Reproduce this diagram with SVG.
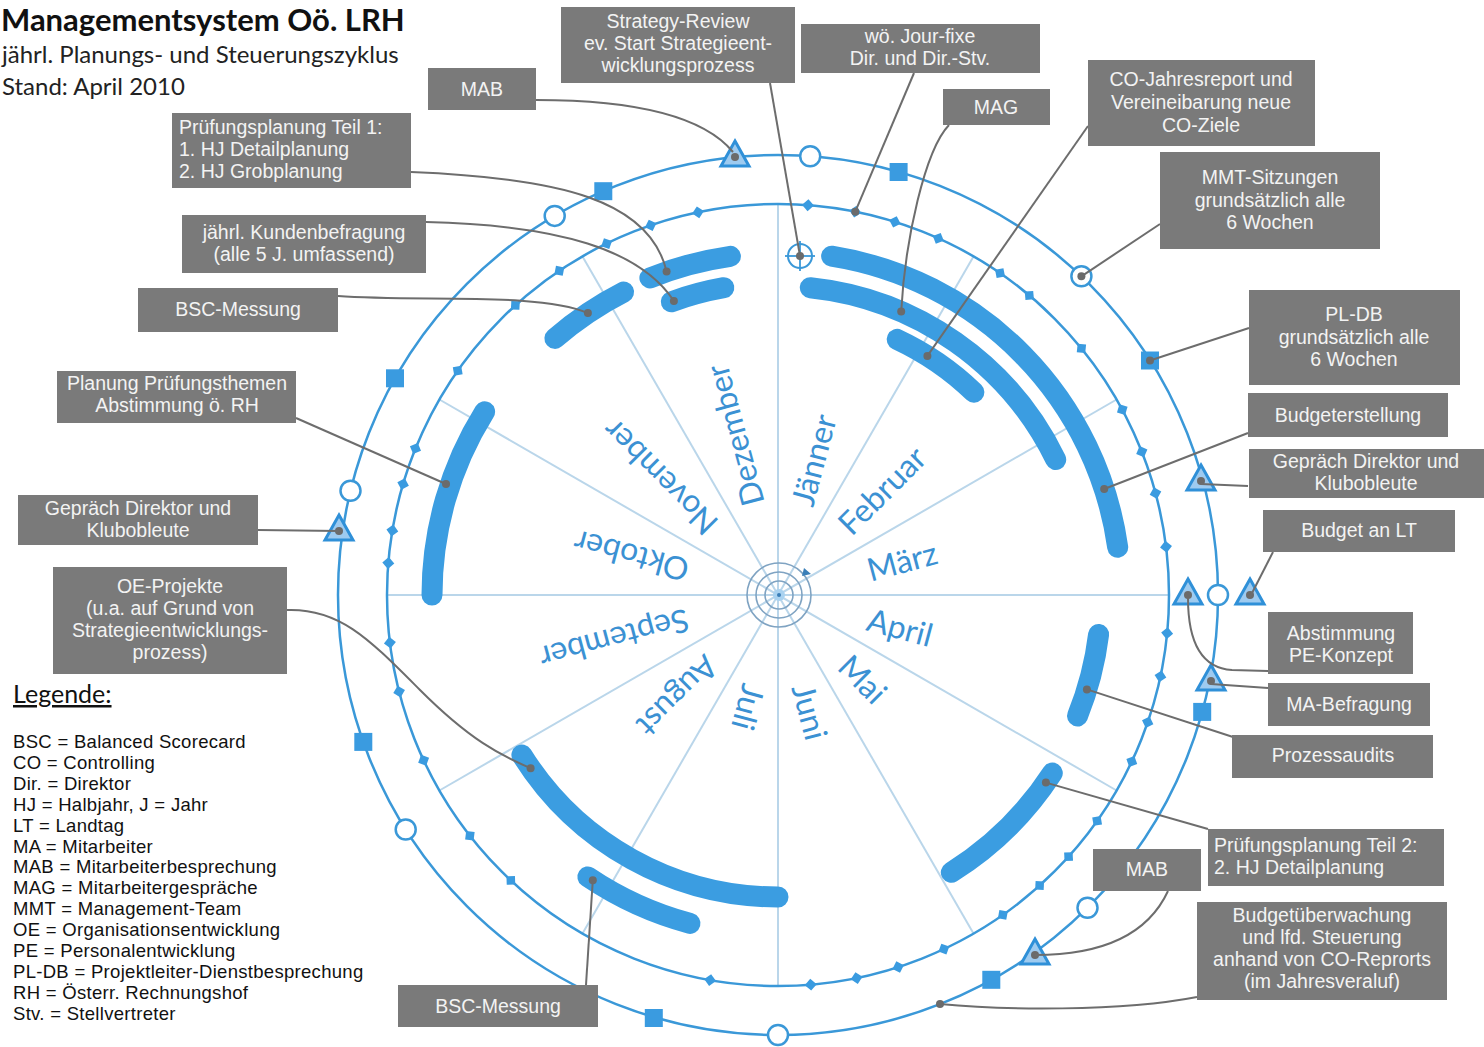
<svg xmlns="http://www.w3.org/2000/svg" xmlns:xlink="http://www.w3.org/1999/xlink" width="1484" height="1047" viewBox="0 0 1484 1047">
<style>
text{font-family:Lato,"Liberation Sans",sans-serif}
.box{fill:#7a7a7a}
.bt{fill:#f3f3f3;font-family:"Liberation Sans",Arial,sans-serif;font-size:19.5px;text-anchor:middle}
.btl{fill:#f3f3f3;font-family:"Liberation Sans",Arial,sans-serif;font-size:19.5px}
.con{fill:none;stroke:#6d6d6d;stroke-width:2}
.bar{fill:none;stroke:#3b9de1;stroke-width:21;stroke-linecap:round}
.ring{fill:none;stroke:#3a98d8;stroke-width:2.5}
.ray{stroke:#bad6ea;stroke-width:2}
.mon{fill:#3b91d3;font-size:32px}
.sq{fill:#3a9be0}
.oc{fill:#fff;stroke:#3a98d8;stroke-width:2.5}
.tri{fill:#9ecbf0;stroke:#2f90d8;stroke-width:3;stroke-linejoin:miter}
.gd{fill:#6b6b6b}
.dm{fill:#3a9be0}
.leg{font-family:"Liberation Sans",Arial,sans-serif;font-size:18.5px;letter-spacing:0.3px;fill:#111}
.tgt{fill:none;stroke:#7fa3c2;stroke-width:1.6}
</style>
<defs>
<path id="dm" d="M0,-6 L6,0 0,6 -6,0Z" class="dm"/>
<rect id="sq" x="-9" y="-9" width="18" height="18" class="sq"/>
<circle id="oc" r="10" class="oc"/>
<g id="tri"><path d="M0,-16 L14,9 -14,9Z" class="tri"/><circle r="4" class="gd"/></g>
</defs>
<rect width="1484" height="1047" fill="#fff"/>

<g id="title">
<text x="1" y="31" font-size="31" font-weight="bold" fill="#111">Managementsystem Oö. LRH</text>
<text x="2" y="63" font-size="24" fill="#222">jährl. Planungs- und Steuerungszyklus</text>
<text x="2" y="95" font-size="24" fill="#222">Stand: April 2010</text>
</g>

<g id="wheel">
<g id="rays">
<line class="ray" x1="778" y1="204" x2="778" y2="986"/>
<line class="ray" x1="387" y1="595" x2="1169" y2="595"/>
<line class="ray" x1="582.5" y1="256.4" x2="973.5" y2="933.6"/>
<line class="ray" x1="439.4" y1="399.5" x2="1116.6" y2="790.5"/>
<line class="ray" x1="439.4" y1="790.5" x2="1116.6" y2="399.5"/>
<line class="ray" x1="582.5" y1="933.6" x2="973.5" y2="256.4"/>
</g>
<circle class="ring" cx="778" cy="595" r="440"/>
<circle class="ring" cx="778" cy="595" r="391"/>
<g id="target">
<circle cx="779" cy="595" r="32" fill="#fff" class="tgt"/>
<circle cx="779" cy="595" r="23" class="tgt"/>
<circle cx="779" cy="595" r="14" class="tgt"/>
<circle cx="779" cy="595" r="6" fill="#a9d2f0"/>
<circle cx="779" cy="595" r="2" fill="#3a7fb8"/>
<path d="M804,568 L811,574 802,576Z" fill="#3a7fb8"/>
</g>
<g id="months">
<text class="mon" transform="translate(802.1,505.2) rotate(-75)" dy="0.35em">Jänner</text>
<text class="mon" transform="translate(843.8,529.2) rotate(-45)" dy="0.35em">Februar</text>
<text class="mon" transform="translate(867.8,570.9) rotate(-15)" dy="0.35em">März</text>
<text class="mon" transform="translate(867.8,619.1) rotate(15)" dy="0.35em">April</text>
<text class="mon" transform="translate(843.8,660.8) rotate(45)" dy="0.35em">Mai</text>
<text class="mon" transform="translate(802.1,684.8) rotate(75)" dy="0.35em">Juni</text>
<text class="mon" transform="translate(753.9,684.8) rotate(105)" dy="0.35em">Juli</text>
<text class="mon" transform="translate(712.2,660.8) rotate(135)" dy="0.35em">August</text>
<text class="mon" transform="translate(688.2,619.1) rotate(165)" dy="0.35em">September</text>
<text class="mon" transform="translate(688.2,570.9) rotate(195)" dy="0.35em">Oktober</text>
<text class="mon" transform="translate(712.2,529.2) rotate(225)" dy="0.35em">November</text>
<text class="mon" transform="translate(753.9,505.2) rotate(255)" dy="0.35em">Dezember</text>
</g>
<g id="weekly">
<use href="#dm" x="778" y="204" transform="rotate(4.4 778 595)"/>
<use href="#dm" x="778" y="204" transform="rotate(11.4 778 595)"/>
<use href="#dm" x="778" y="204" transform="rotate(17.4 778 595)"/>
<use href="#dm" x="778" y="204" transform="rotate(24.2 778 595)"/>
<use href="#dm" x="778" y="204" transform="rotate(34.6 778 595)"/>
<use href="#dm" x="778" y="204" transform="rotate(40 778 595)"/>
<use href="#dm" x="778" y="204" transform="rotate(50.9 778 595)"/>
<use href="#dm" x="778" y="204" transform="rotate(61.7 778 595)"/>
<use href="#dm" x="778" y="204" transform="rotate(68.5 778 595)"/>
<use href="#dm" x="778" y="204" transform="rotate(74.9 778 595)"/>
<use href="#dm" x="778" y="204" transform="rotate(82.9 778 595)"/>
<use href="#dm" x="778" y="204" transform="rotate(95.6 778 595)"/>
<use href="#dm" x="778" y="204" transform="rotate(102 778 595)"/>
<use href="#dm" x="778" y="204" transform="rotate(109 778 595)"/>
<use href="#dm" x="778" y="204" transform="rotate(115.2 778 595)"/>
<use href="#dm" x="778" y="204" transform="rotate(125.3 778 595)"/>
<use href="#dm" x="778" y="204" transform="rotate(132 778 595)"/>
<use href="#dm" x="778" y="204" transform="rotate(138 778 595)"/>
<use href="#dm" x="778" y="204" transform="rotate(144.9 778 595)"/>
<use href="#dm" x="778" y="204" transform="rotate(154.9 778 595)"/>
<use href="#dm" x="778" y="204" transform="rotate(162.1 778 595)"/>
<use href="#dm" x="778" y="204" transform="rotate(168.4 778 595)"/>
<use href="#dm" x="778" y="204" transform="rotate(175.2 778 595)"/>
<use href="#dm" x="778" y="204" transform="rotate(190 778 595)"/>
<use href="#dm" x="778" y="204" transform="rotate(223.1 778 595)"/>
<use href="#dm" x="778" y="204" transform="rotate(232 778 595)"/>
<use href="#dm" x="778" y="204" transform="rotate(245 778 595)"/>
<use href="#dm" x="778" y="204" transform="rotate(255.7 778 595)"/>
<use href="#dm" x="778" y="204" transform="rotate(263 778 595)"/>
<use href="#dm" x="778" y="204" transform="rotate(274.7 778 595)"/>
<use href="#dm" x="778" y="204" transform="rotate(279.5 778 595)"/>
<use href="#dm" x="778" y="204" transform="rotate(286.5 778 595)"/>
<use href="#dm" x="778" y="204" transform="rotate(292 778 595)"/>
<use href="#dm" x="778" y="204" transform="rotate(305 778 595)"/>
<use href="#dm" x="778" y="204" transform="rotate(317.8 778 595)"/>
<use href="#dm" x="778" y="204" transform="rotate(326 778 595)"/>
<use href="#dm" x="778" y="204" transform="rotate(334 778 595)"/>
<use href="#dm" x="778" y="204" transform="rotate(341 778 595)"/>
<use href="#dm" x="778" y="204" transform="rotate(348.2 778 595)"/>
</g>
<g id="bars">
<path class="bar" d="M831.6,256.2 A343,343 0 0 1 1117.7,547.3"/>
<path class="bar" d="M810.3,287.7 A309,309 0 0 1 1055.7,459.5"/>
<path class="bar" d="M897.2,339.4 A282,282 0 0 1 973.9,392.2"/>
<path class="bar" d="M1098.6,634.4 A323,323 0 0 1 1077.5,716"/>
<path class="bar" d="M1052.3,773.1 A327,327 0 0 1 951.3,872.3"/>
<path class="bar" d="M778,897 A302,302 0 0 1 521.9,755"/>
<path class="bar" d="M690,923.4 A340,340 0 0 1 587.9,876.9"/>
<path class="bar" d="M554.9,338.4 A340,340 0 0 1 623.6,292.1"/>
<path class="bar" d="M649.9,277.9 A342,342 0 0 1 730.4,256.3"/>
<path class="bar" d="M671.3,301.8 A312,312 0 0 1 723.8,287.7"/>
<path class="bar" d="M432,595 A346,346 0 0 1 484.6,411.7"/>
</g>
<g id="events">
<use href="#oc" x="810.2" y="156.2"/>
<use href="#sq" x="898.6" y="172"/>
<use href="#oc" x="1081.4" y="276.3"/>
<use href="#sq" x="1150" y="360.5"/>
<use href="#oc" x="1218" y="595"/>
<use href="#sq" x="1202.2" y="711.9"/>
<use href="#oc" x="1087.5" y="907.8"/>
<use href="#sq" x="991.3" y="979.8"/>
<use href="#oc" x="778" y="1035"/>
<use href="#sq" x="653.8" y="1018"/>
<use href="#oc" x="405.7" y="829.5"/>
<use href="#sq" x="363.3" y="741.9"/>
<use href="#oc" x="350.5" y="490.8"/>
<use href="#sq" x="395" y="378.3"/>
<use href="#oc" x="554.7" y="215.9"/>
<use href="#sq" x="603.3" y="191.2"/>
<use href="#tri" x="735" y="157"/>
<use href="#tri" x="1201" y="481"/>
<use href="#tri" x="1188" y="595"/>
<use href="#tri" x="1250" y="595"/>
<use href="#tri" x="1211" y="681"/>
<use href="#tri" x="1035" y="955"/>
<use href="#tri" x="339" y="531"/>
<g id="strategy-marker">
<circle cx="800" cy="256" r="12" fill="none" stroke="#3a98d8" stroke-width="2"/>
<line x1="785" y1="256" x2="815" y2="256" stroke="#3a98d8" stroke-width="1.8"/>
<line x1="800" y1="241" x2="800" y2="271" stroke="#3a98d8" stroke-width="1.8"/>
</g>
</g>
</g>

<g id="connectors">
<path class="con" d="M536,100 C620,100 700,112 733,152"/>
<path class="con" d="M770,83 L800,256"/>
<path class="con" d="M914,73 L855.3,211.7"/>
<path class="con" d="M949,125 C925,150 905,240 901.2,311.6"/>
<path class="con" d="M1088,126 L927.4,355.9"/>
<path class="con" d="M1160,224 L1081.4,276.3"/>
<path class="con" d="M1249,328 L1150,360.5"/>
<path class="con" d="M1248,433 L1104.2,489"/>
<path class="con" d="M1248,486 L1201,484"/>
<path class="con" d="M1273,552 L1250,597"/>
<path class="con" d="M1268,671 L1232,670 C1200,668 1188,640 1188,598"/>
<path class="con" d="M1268,688 L1211,684"/>
<path class="con" d="M1233,737 L1086.9,689.4"/>
<path class="con" d="M1208,829 L1045.9,782.6"/>
<path class="con" d="M1168,891 C1150,930 1110,955 1035,955"/>
<path class="con" d="M1197,997 C1120,1012 1000,1010 940,1004"/>
<path class="con" d="M586,985 L592.8,880.2"/>
<path class="con" d="M411,172 C560,178 650,200 666.6,271.6"/>
<path class="con" d="M426,222 C560,225 640,250 673.9,300.9"/>
<path class="con" d="M338,296 C420,302 540,292 587.9,313.1"/>
<path class="con" d="M296,418 L446,484"/>
<path class="con" d="M258,530 L339,531"/>
<path class="con" d="M287,610 C340,608 370,640 420,690 S500,755 530.6,768.2"/>
<g id="dots" class="gd">
<circle cx="800" cy="256" r="4"/>
<circle cx="855.3" cy="211.7" r="4"/>
<circle cx="901.2" cy="311.6" r="4"/>
<circle cx="927.4" cy="355.9" r="4"/>
<circle cx="1081.4" cy="276.3" r="4"/>
<circle cx="1150" cy="360.5" r="4"/>
<circle cx="1104.2" cy="489" r="4"/>
<circle cx="1086.9" cy="689.4" r="4"/>
<circle cx="1045.9" cy="782.6" r="4"/>
<circle cx="940" cy="1004" r="4"/>
<circle cx="592.8" cy="880.2" r="4"/>
<circle cx="666.6" cy="271.6" r="4"/>
<circle cx="673.9" cy="300.9" r="4"/>
<circle cx="587.9" cy="313.1" r="4"/>
<circle cx="446" cy="484" r="4"/>
<circle cx="530.6" cy="768.2" r="4"/>
</g>
</g>

<g id="n-mab-top"><rect class="box" x="428" y="68" width="108" height="42"/><text class="bt" x="482" y="96">MAB</text></g>
<g id="n-strategy"><rect class="box" x="561" y="7" width="234" height="76"/><text class="bt" y="28"><tspan x="678">Strategy-Review</tspan><tspan x="678" dy="22">ev. Start Strategieent-</tspan><tspan x="678" dy="22">wicklungsprozess</tspan></text></g>
<g id="n-jourfixe"><rect class="box" x="801" y="24" width="239" height="49"/><text class="bt" y="43"><tspan x="920">wö. Jour-fixe</tspan><tspan x="920" dy="22">Dir. und Dir.-Stv.</tspan></text></g>
<g id="n-mag"><rect class="box" x="943" y="89" width="107" height="36"/><text class="bt" x="996" y="114">MAG</text></g>
<g id="n-co"><rect class="box" x="1088" y="60" width="227" height="86"/><text class="bt" y="86"><tspan x="1201">CO-Jahresreport und</tspan><tspan x="1201" dy="23">Vereineibarung neue</tspan><tspan x="1201" dy="23">CO-Ziele</tspan></text></g>
<g id="n-mmt"><rect class="box" x="1160" y="152" width="220" height="97"/><text class="bt" y="184"><tspan x="1270">MMT-Sitzungen</tspan><tspan x="1270" dy="23">grundsätzlich alle</tspan><tspan x="1270" dy="22">6 Wochen</tspan></text></g>
<g id="n-pldb"><rect class="box" x="1249" y="290" width="211" height="95"/><text class="bt" y="321"><tspan x="1354">PL-DB</tspan><tspan x="1354" dy="23">grundsätzlich alle</tspan><tspan x="1354" dy="22">6 Wochen</tspan></text></g>
<g id="n-budgeterstellung"><rect class="box" x="1248" y="393" width="200" height="44"/><text class="bt" x="1348" y="422">Budgeterstellung</text></g>
<g id="n-gespraech-r"><rect class="box" x="1249" y="449" width="235" height="49"/><text class="bt" y="468"><tspan x="1366">Gepräch Direktor und</tspan><tspan x="1366" dy="22">Klubobleute</tspan></text></g>
<g id="n-budget-lt"><rect class="box" x="1263" y="510" width="192" height="42"/><text class="bt" x="1359" y="537">Budget an LT</text></g>
<g id="n-pe"><rect class="box" x="1268" y="612" width="145" height="62"/><text class="bt" y="640"><tspan x="1341">Abstimmung</tspan><tspan x="1341" dy="22">PE-Konzept</tspan></text></g>
<g id="n-mabefragung"><rect class="box" x="1268" y="683" width="162" height="43"/><text class="bt" x="1349" y="711">MA-Befragung</text></g>
<g id="n-prozess"><rect class="box" x="1232" y="735" width="201" height="43"/><text class="bt" x="1333" y="762">Prozessaudits</text></g>
<g id="n-pp2"><rect class="box" x="1208" y="829" width="236" height="57"/><text class="btl" y="852"><tspan x="1214">Prüfungsplanung Teil 2:</tspan><tspan x="1214" dy="22">2. HJ Detailplanung</tspan></text></g>
<g id="n-mab-br"><rect class="box" x="1093" y="849" width="108" height="42"/><text class="bt" x="1147" y="876">MAB</text></g>
<g id="n-budgetueberw"><rect class="box" x="1197" y="902" width="250" height="98"/><text class="bt" y="922"><tspan x="1322">Budgetüberwachung</tspan><tspan x="1322" dy="22">und lfd. Steuerung</tspan><tspan x="1322" dy="22">anhand von CO-Reprorts</tspan><tspan x="1322" dy="22">(im Jahresveraluf)</tspan></text></g>
<g id="n-bsc-bottom"><rect class="box" x="398" y="985" width="200" height="42"/><text class="bt" x="498" y="1013">BSC-Messung</text></g>
<g id="n-pp1"><rect class="box" x="172" y="113" width="239" height="75"/><text class="btl" y="134"><tspan x="179">Prüfungsplanung Teil 1:</tspan><tspan x="179" dy="22">1. HJ Detailplanung</tspan><tspan x="179" dy="22">2. HJ Grobplanung</tspan></text></g>
<g id="n-kunden"><rect class="box" x="182" y="215" width="244" height="58"/><text class="bt" y="239"><tspan x="304">jährl. Kundenbefragung</tspan><tspan x="304" dy="22">(alle 5 J. umfassend)</tspan></text></g>
<g id="n-bsc-left"><rect class="box" x="138" y="288" width="200" height="44"/><text class="bt" x="238" y="316">BSC-Messung</text></g>
<g id="n-planung"><rect class="box" x="57" y="371" width="239" height="52"/><text class="bt" y="390"><tspan x="177">Planung Prüfungsthemen</tspan><tspan x="177" dy="22">Abstimmung ö. RH</tspan></text></g>
<g id="n-gespraech-l"><rect class="box" x="18" y="495" width="240" height="50"/><text class="bt" y="515"><tspan x="138">Gepräch Direktor und</tspan><tspan x="138" dy="22">Klubobleute</tspan></text></g>
<g id="n-oe"><rect class="box" x="53" y="567" width="234" height="107"/><text class="bt" y="593"><tspan x="170">OE-Projekte</tspan><tspan x="170" dy="22">(u.a. auf Grund von</tspan><tspan x="170" dy="22">Strategieentwicklungs-</tspan><tspan x="170" dy="22">prozess)</tspan></text></g>

<g id="legend">
<text x="13" y="703" font-size="25" fill="#111" text-decoration="underline">Legende:</text>
<text class="leg" x="13" y="748"><tspan x="13">BSC = Balanced Scorecard</tspan><tspan x="13" dy="20.9">CO = Controlling</tspan><tspan x="13" dy="20.9">Dir. = Direktor</tspan><tspan x="13" dy="20.9">HJ = Halbjahr, J = Jahr</tspan><tspan x="13" dy="20.9">LT = Landtag</tspan><tspan x="13" dy="20.9">MA = Mitarbeiter</tspan><tspan x="13" dy="20.9">MAB = Mitarbeiterbesprechung</tspan><tspan x="13" dy="20.9">MAG = Mitarbeitergespräche</tspan><tspan x="13" dy="20.9">MMT = Management-Team</tspan><tspan x="13" dy="20.9">OE = Organisationsentwicklung</tspan><tspan x="13" dy="20.9">PE = Personalentwicklung</tspan><tspan x="13" dy="20.9">PL-DB = Projektleiter-Dienstbesprechung</tspan><tspan x="13" dy="20.9">RH = Österr. Rechnungshof</tspan><tspan x="13" dy="20.9">Stv. = Stellvertreter</tspan></text>
</g>
</svg>
